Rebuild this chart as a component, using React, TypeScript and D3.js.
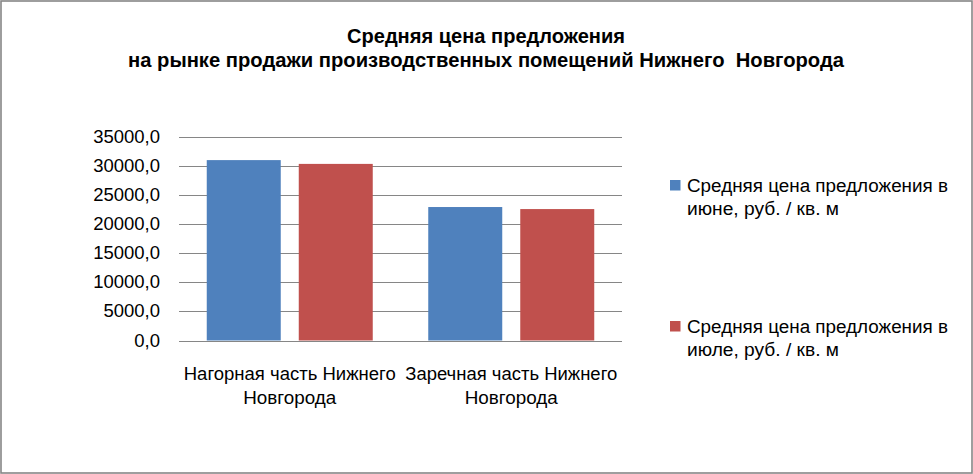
import React from "react";
import * as d3 from "d3";

const titleLines = [
  "Средняя цена предложения",
  "на рынке продажи производственных помещений Нижнего  Новгорода",
];
const categories = [
  "Нагорная часть Нижнего Новгорода",
  "Заречная часть Нижнего Новгорода",
];
const seriesNames = [
  "Средняя цена предложения в июне, руб. / кв. м",
  "Средняя цена предложения в июле, руб. / кв. м",
];
const juneValues = [30950, 22900];
const julyValues = [30300, 22550];
const seriesColors = ["#4F81BD", "#C0504D"];
const yTicks = [0, 5000, 10000, 15000, 20000, 25000, 30000, 35000];

const W = 973;
const H = 474;
const FONT = "'Liberation Sans', Arial, sans-serif";

function splitLast(s: string): [string, string] {
  const i = s.lastIndexOf(" ");
  return [s.slice(0, i), s.slice(i + 1)];
}
function splitAfterWord(s: string, n: number): [string, string] {
  const w = s.split(" ");
  return [w.slice(0, n).join(" "), w.slice(n).join(" ")];
}

export default function App() {
  const plotLeft = 179;
  const plotRight = 622;
  const y = d3.scaleLinear().domain([0, 35000]).range([340.5, 136.5]);
  const x0 = d3.scaleBand<string>().domain(categories).range([plotLeft, plotRight]).padding(0);
  const step = x0.bandwidth();
  const outer = 27.75;
  const x1 = d3
    .scaleBand<string>()
    .domain(seriesNames)
    .range([outer, step - outer])
    .paddingInner(0.1957)
    .paddingOuter(0);
  const series = [juneValues, julyValues];
  const fmt = (v: number) => d3.format(".1f")(v).replace(".", ",");

  return (
    <svg
      width={W}
      height={H}
      style={{ position: "absolute", left: 0, top: 0, background: "#fff" }}
      fontFamily={FONT}
    >
      <rect x={0} y={0} width={W} height={H} fill="#fff" />
      <rect x={1} y={1} width={971} height={472} fill="none" stroke="#868686" strokeWidth={1.6} />

      {/* title */}
      <text x={486} y={43} textAnchor="middle" fontWeight="bold" fontSize={20}
        textLength={278} lengthAdjust="spacingAndGlyphs">{titleLines[0]}</text>
      <text x={486} y={67} textAnchor="middle" fontWeight="bold" fontSize={20}
        style={{ whiteSpace: "pre" }}
        textLength={716} lengthAdjust="spacingAndGlyphs">{titleLines[1]}</text>

      {/* gridlines */}
      {yTicks.map((t) => (
        <line key={t} x1={plotLeft} x2={plotRight} y1={Math.round(y(t)) + 0.5} y2={Math.round(y(t)) + 0.5}
          stroke="#868686" strokeWidth={1} />
      ))}
      {/* y tick labels */}
      {yTicks.map((t) => (
        <text key={"l" + t} x={160} y={y(t) + 6} textAnchor="end" fontSize={18.5} fill="#000">
          {fmt(t)}
        </text>
      ))}

      {/* bars */}
      {categories.map((c, ci) => (
        <g key={c} transform={`translate(${x0(c)},0)`}>
          {seriesNames.map((s, si) => (
            <rect key={s} x={x1(s)} y={y(series[si][ci])} width={x1.bandwidth()}
              height={y(0) - y(series[si][ci])} fill={seriesColors[si]} />
          ))}
        </g>
      ))}

      {/* category labels */}
      {categories.map((c) => {
        const [a, b] = splitLast(c);
        const cx = (x0(c) as number) + step / 2;
        return (
          <g key={"c" + c}>
            <text x={cx} y={380} textAnchor="middle" fontSize={17.5} textLength={212}
              lengthAdjust="spacingAndGlyphs">{a}</text>
            <text x={cx} y={404} textAnchor="middle" fontSize={17.5} textLength={93}
              lengthAdjust="spacingAndGlyphs">{b}</text>
          </g>
        );
      })}

      {/* legend */}
      {seriesNames.map((s, si) => {
        const [a, b] = splitAfterWord(s, 4);
        const top = si === 0 ? 180 : 321;
        return (
          <g key={"lg" + s}>
            <rect x={670} y={top} width={10.5} height={10.5} fill={seriesColors[si]} />
            <text x={687} y={top + 12} fontSize={18} textLength={261}
              lengthAdjust="spacingAndGlyphs">{a}</text>
            <text x={687} y={top + 35} fontSize={18} textLength={152}
              lengthAdjust="spacingAndGlyphs">{b}</text>
          </g>
        );
      })}
    </svg>
  );
}
